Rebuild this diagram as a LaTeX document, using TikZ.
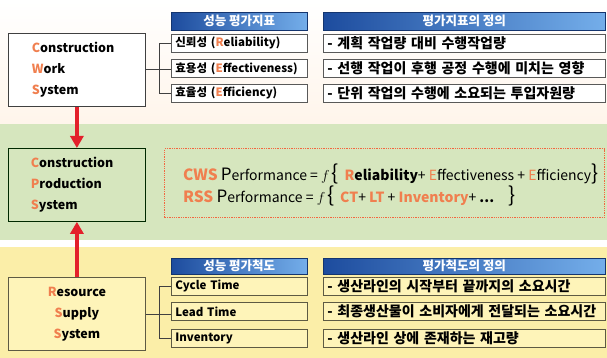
\documentclass[tikz,border=0pt]{standalone}
\usepackage{fontspec}
\setmainfont{Noto Sans CJK KR}
\usetikzlibrary{arrows.meta}

\definecolor{initc}{HTML}{F07F4F}
\definecolor{arrowred}{HTML}{E3202B}
\definecolor{bandgreen}{HTML}{D6E6BE}
\definecolor{bandyellow}{HTML}{FBEEA8}
\definecolor{boxyellow}{HTML}{FEF4B9}
\definecolor{hdrdark}{HTML}{1D4C9E}
\definecolor{hdrlight}{HTML}{74AEEA}

\newcommand{\oc}[1]{\textcolor{initc}{#1}}

\tikzset{
  sysbox/.style={draw=black!75, line width=0.8pt, minimum width=137pt, minimum height=73pt,
    inner sep=0pt, font=\bfseries\fontsize{12.5}{21}\selectfont},
  hdr/.style={anchor=north west, draw=hdrdark!70!black, line width=0.5pt, left color=hdrdark,
    right color=hdrlight, text=white, inner sep=0pt, font=\bfseries\fontsize{12.5}{12.5}\selectfont},
  ind/.style={anchor=north west, draw=black!65, line width=0.8pt, fill=white, minimum height=18pt,
    inner ysep=0pt, inner xsep=4pt, align=left, font=\bfseries\fontsize{11.5}{13}\selectfont},
  defn/.style={ind, text width=274pt, font=\bfseries\fontsize{14}{14}\selectfont},
  yel/.style={draw=black!55!yellow!60!black, fill=boxyellow},
  tree/.style={draw=black!75, line width=0.8pt},
  updown/.style={draw=arrowred, line width=4pt, -{Triangle[width=13pt,length=12pt]}}
}

\begin{document}
\begin{tikzpicture}[x=1pt,y=-1pt]
\useasboundingbox (0,0) rectangle (607,358);
% bands
\shade[top color=white, bottom color=orange!8] (0,0) rectangle (607,124);
\fill[bandgreen] (0,124) rectangle (607,240);
\fill[bandyellow] (0,247) rectangle (607,358);

% --- construction work system
\node [sysbox, fill=white, anchor=north west, text width=90pt, align=left] (c) at (8,33)
  {\oc{C}onstruction\\\oc{W}ork\\\oc{S}ystem};
\node [hdr, minimum width=136pt, minimum height=18pt] (h1) at (171,12) {성능 평가지표};
\node [hdr, minimum width=282pt, minimum height=18pt] (h2) at (323,12) {평가지표의 정의};
\node [ind, text width=128pt] (r1) at (171,34) {신뢰성 (\oc{R}eliability)};
\node [ind, text width=128pt] (r2) at (171,59) {효용성 (\oc{E}ffectiveness)};
\node [ind, text width=128pt] (r3) at (171,84) {효율성 (\oc{E}fficiency)};
\node [defn] (d1) at (323,34) {- 계획 작업량 대비 수행작업량};
\node [defn] (d2) at (323,59) {- 선행 작업이 후행 공정 수행에 미치는 영향};
\node [defn] (d3) at (323,84) {- 단위 작업의 수행에 소요되는 투입자원량};
\coordinate (j1) at (159,0);
\draw [tree] (c.east) -- (c.east -| r2.west);
\draw [tree] (r1.west) -| (j1 |- r1.west) -- (j1 |- r3.west) -- (r3.west);

% --- construction production system
\node [sysbox, fill=bandgreen, draw=black!60!green!40!black, anchor=north west, text width=92pt, align=left] (p) at (8,148)
  {\oc{C}onstruction\\\oc{P}roduction\\\oc{S}ystem};
\node [draw=initc!80!red, densely dotted, line width=1.3pt, anchor=north west, minimum width=440pt,
  minimum height=69pt, inner sep=0pt] (e) at (164,148) {};
\node [anchor=west, inner sep=0pt, font=\fontsize{14}{15}\selectfont] (f1) at (183,174)
  {{\bfseries\fontsize{15.5}{15}\selectfont\oc{CWS}} {\fontsize{17}{17}\selectfont P}erformance = {\Large$f$}\,{\fontsize{21}{21}\selectfont\{}\,
   {\bfseries\oc{R}eliability}+ \oc{E}ffectiveness + \oc{E}fficiency{\fontsize{21}{21}\selectfont\}}};
\node [anchor=west, inner sep=0pt, font=\fontsize{14}{15}\selectfont] (f2) at (183,196)
  {{\bfseries\fontsize{15.5}{15}\selectfont\oc{RSS}} {\fontsize{17}{17}\selectfont P}erformance = {\Large$f$}\,{\fontsize{21}{21}\selectfont\{}\,
   {\bfseries\oc{CT}}+ {\bfseries\oc{LT}} + {\bfseries\oc{Inventory}}+ {\bfseries ...}\quad{\fontsize{21}{21}\selectfont\}}};

% --- resource supply system
\node [sysbox, yel, anchor=north west, align=center] (s) at (8,277)
  {\oc{R}esource\\\oc{S}upply\\\oc{S}ystem};
\node [hdr, minimum width=136pt, minimum height=16pt] (h3) at (171,258) {성능 평가척도};
\node [hdr, minimum width=282pt, minimum height=16pt] (h4) at (323,258) {평가척도의 정의};
\node [ind, yel, text width=128pt] (t1) at (171,277) {Cycle Time};
\node [ind, yel, text width=128pt] (t2) at (171,302) {Lead Time};
\node [ind, yel, text width=128pt] (t3) at (171,329) {Inventory};
\node [defn, yel] (g1) at (323,277) {- 생산라인의 시작부터 끝까지의 소요시간};
\node [defn, yel] (g2) at (323,302) {- 최종생산물이 소비자에게 전달되는 소요시간};
\node [defn, yel] (g3) at (323,329) {- 생산라인 상에 존재하는 재고량};
\coordinate (j2) at (159,0);
\draw [tree] (s.east) -- (s.east -| t2.west);
\draw [tree] (t1.west) -| (j2 |- t1.west) -- (j2 |- t3.west) -- (t3.west);

% arrows
\draw [updown] (c.south) -- (p.north);
\draw [updown] (s.north) -- (p.south);
\end{tikzpicture}
\end{document}
